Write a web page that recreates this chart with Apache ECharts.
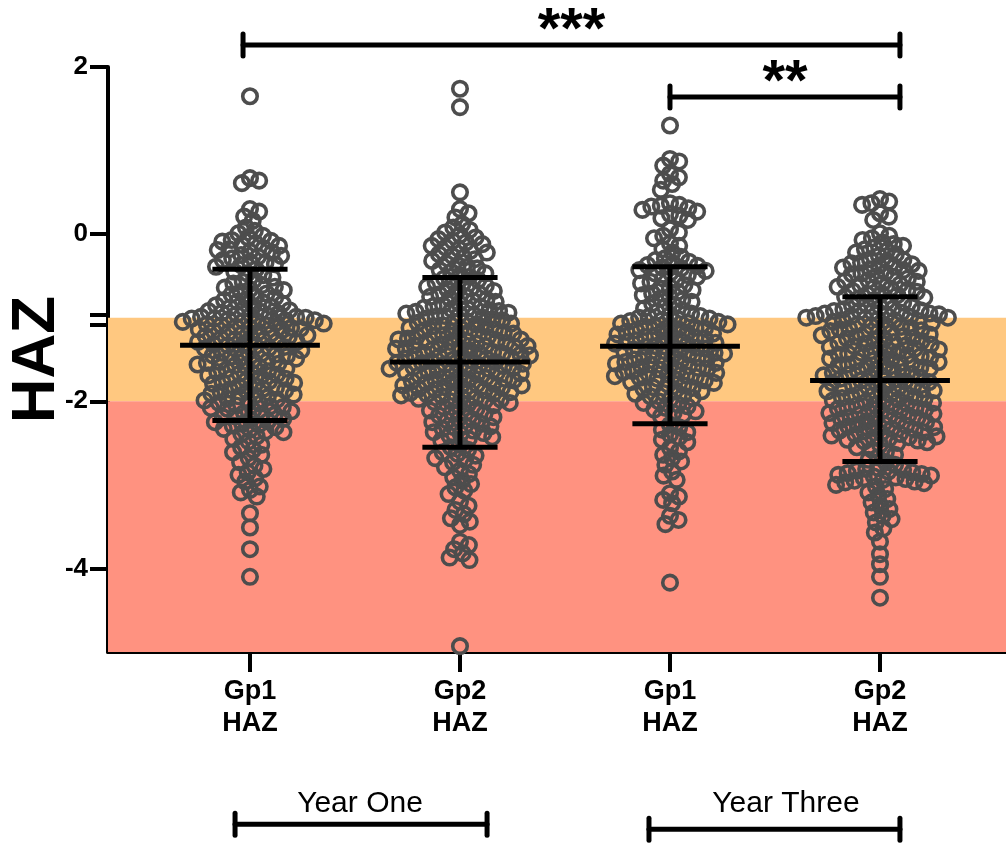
<!DOCTYPE html>
<html>
<head>
<meta charset="utf-8">
<script src="https://cdn.jsdelivr.net/npm/echarts@6/dist/echarts.min.js"></script>
<style>html,body{margin:0;padding:0;background:#fff}#c{width:1006px;height:844px}</style>
</head>
<body>
<div id="c"></div>
<script>
// ---------- data ----------
const categories = ['Gp1\nHAZ', 'Gp2\nHAZ', 'Gp1\nHAZ', 'Gp2\nHAZ'];
const yTickLabels = [2, 0, -2, -4];

const y1Gp1 = [1.65, 0.67, 0.64, 0.61, 0.30, 0.27, 0.21, 0.16, 0.08, 0.04, 0.01,
  -0.02, -0.04, -0.07, -0.08, -0.09, -0.11, -0.13, -0.14, -0.17, -0.18, -0.19,
  -0.21, -0.22, -0.25, -0.26, -0.27, -0.29, -0.31, -0.33, -0.34, -0.36, -0.37, -0.39,
  -0.42, -0.45, -0.47, -0.49, -0.52, -0.55, -0.57, -0.59,
  -0.61, -0.63, -0.64, -0.66, -0.67, -0.69, -0.71, -0.72, -0.75, -0.76, -0.78, -0.79,
  -0.81, -0.82, -0.83, -0.85, -0.86, -0.87, -0.88, -0.89,
  -0.91, -0.92, -0.93, -0.94, -0.95, -0.96, -0.97, -0.98, -0.99, -0.99,
  -1.00, -1.01, -1.01, -1.02, -1.03, -1.03, -1.04, -1.05, -1.05, -1.06, -1.07, -1.08, -1.09, -1.09,
  -1.11, -1.12, -1.12, -1.13, -1.14, -1.15, -1.16, -1.17, -1.18, -1.19, -1.19,
  -1.21, -1.22, -1.23, -1.24, -1.25, -1.26, -1.27, -1.28, -1.29, -1.29,
  -1.31, -1.32, -1.33, -1.34, -1.35, -1.36, -1.37, -1.38, -1.39,
  -1.41, -1.42, -1.43, -1.44, -1.45, -1.46, -1.47, -1.48, -1.49,
  -1.51, -1.52, -1.53, -1.54, -1.55, -1.56, -1.57, -1.58, -1.59,
  -1.61, -1.62, -1.64, -1.65, -1.66, -1.67, -1.68, -1.69,
  -1.71, -1.72, -1.73, -1.75, -1.76, -1.77, -1.78, -1.79,
  -1.81, -1.82, -1.84, -1.85, -1.86, -1.87, -1.88, -1.89,
  -1.91, -1.92, -1.93, -1.94, -1.95, -1.97, -1.98, -1.99,
  -2.01, -2.02, -2.03, -2.05, -2.06, -2.07, -2.08, -2.09,
  -2.11, -2.12, -2.14, -2.15, -2.16, -2.18, -2.19,
  -2.21, -2.22, -2.24, -2.25, -2.27, -2.28, -2.29,
  -2.31, -2.33, -2.34, -2.36, -2.37, -2.39,
  -2.42, -2.45, -2.48, -2.52, -2.55, -2.58, -2.61, -2.64, -2.68,
  -2.73, -2.77, -2.81, -2.85, -2.88, -2.92, -2.96,
  -3.02, -3.06, -3.09, -3.14, -3.34, -3.51, -3.77, -4.10];

const y1Gp2 = [1.74, 1.52, 0.50, 0.30, 0.25, 0.20, 0.12, 0.08, 0.05, 0.02, -0.01,
  -0.04, -0.06, -0.08, -0.10, -0.12, -0.14, -0.16, -0.18, -0.20, -0.22, -0.24, -0.26,
  -0.28, -0.30, -0.32, -0.35, -0.37, -0.39, -0.41, -0.43, -0.45, -0.47, -0.49,
  -0.51, -0.53, -0.55, -0.57, -0.58, -0.60, -0.62, -0.63, -0.65, -0.66, -0.68, -0.69, -0.71, -0.72,
  -0.74, -0.75, -0.77, -0.78, -0.80, -0.81, -0.83,
  -0.85, -0.86, -0.87, -0.88, -0.89, -0.90, -0.91, -0.92, -0.93, -0.94, -0.95,
  -0.96, -0.97, -0.98, -0.99, -1.00, -1.01, -1.02, -1.03, -1.04, -1.05, -1.06, -1.07,
  -1.08, -1.09, -1.10, -1.11, -1.12, -1.13, -1.14, -1.15, -1.16, -1.17, -1.18, -1.19,
  -1.20, -1.21, -1.22, -1.23, -1.24, -1.25, -1.26, -1.27, -1.28, -1.29, -1.30, -1.31, -1.32,
  -1.33, -1.34, -1.35, -1.36, -1.37, -1.38, -1.39, -1.40, -1.41, -1.42, -1.43, -1.44, -1.45, -1.46,
  -1.47, -1.48, -1.49, -1.50, -1.51, -1.52, -1.53, -1.54, -1.55, -1.56, -1.57, -1.58, -1.59,
  -1.60, -1.61, -1.62, -1.63, -1.64, -1.65, -1.66, -1.67, -1.68, -1.69, -1.70, -1.71,
  -1.72, -1.73, -1.74, -1.75, -1.76, -1.77, -1.78, -1.79, -1.80, -1.81, -1.82, -1.83,
  -1.84, -1.85, -1.86, -1.87, -1.88, -1.89, -1.90, -1.91, -1.92, -1.93, -1.94, -1.95,
  -1.96, -1.97, -1.98, -1.99, -2.00, -2.01, -2.02, -2.03,
  -1.22, -1.26, -1.29, -1.34, -1.37, -1.42, -1.45, -1.49, -1.54, -1.58, -1.61,
  -1.66, -1.74, -1.81, -1.89,
  -2.05, -2.07, -2.09, -2.11, -2.13, -2.15, -2.17, -2.19,
  -2.21, -2.23, -2.25, -2.27, -2.29, -2.31, -2.33, -2.35,
  -2.06, -2.14, -2.22, -2.30, -2.38,
  -2.37, -2.39, -2.41, -2.43, -2.45, -2.47,
  -2.52, -2.55, -2.58, -2.61, -2.63, -2.65, -2.68, -2.70, -2.73, -2.76, -2.79,
  -2.83, -2.87, -2.91, -2.95, -2.99, -3.03, -3.07, -3.11,
  -3.20, -3.25, -3.30, -3.35, -3.40, -3.44, -3.48,
  -3.68, -3.72, -3.77, -3.82, -3.87, -3.90, -4.93];

const y3Gp1 = [1.30, 0.90, 0.87, 0.82, 0.72, 0.68, 0.64, 0.60, 0.53,
  0.37, 0.35, 0.34, 0.33, 0.31, 0.29, 0.27, 0.24, 0.22, 0.19, 0.17,
  0.06, 0.02, -0.02, -0.05, -0.11, -0.14, -0.18, -0.22,
  -0.27, -0.29, -0.31, -0.33, -0.35, -0.37, -0.38, -0.40,
  -0.41, -0.43, -0.44, -0.46, -0.47, -0.49,
  -0.51, -0.53, -0.55, -0.57, -0.59, -0.61, -0.63, -0.65, -0.67, -0.69, -0.71,
  -0.73, -0.75, -0.77, -0.79, -0.81, -0.83, -0.85, -0.87, -0.89, -0.91, -0.93, -0.95,
  -0.97, -0.98, -0.99, -1.00, -1.01, -1.02, -1.03, -1.04, -1.05, -1.06, -1.07, -1.08, -1.09,
  -1.10, -1.11, -1.12, -1.13, -1.14, -1.15, -1.16, -1.17, -1.18, -1.19,
  -1.20, -1.21, -1.22, -1.23, -1.24, -1.25, -1.26, -1.27, -1.28, -1.29, -1.30,
  -1.31, -1.32, -1.33, -1.34, -1.35, -1.36, -1.37, -1.38, -1.39, -1.40, -1.41,
  -1.42, -1.43, -1.44, -1.45, -1.46, -1.47, -1.48, -1.49, -1.50, -1.51, -1.52,
  -1.53, -1.54, -1.55, -1.56, -1.57, -1.58, -1.59, -1.60, -1.61, -1.62, -1.63,
  -1.64, -1.65, -1.66, -1.67, -1.68, -1.69, -1.70, -1.71, -1.72, -1.73,
  -1.74, -1.75, -1.77, -1.78, -1.80, -1.81, -1.83, -1.84, -1.85,
  -1.87, -1.88, -1.90, -1.91, -1.93, -1.94, -1.96,
  -1.98, -2.00, -2.02, -2.04, -2.06, -2.08, -2.10, -2.12, -2.14, -2.16, -2.18,
  -2.28, -2.31, -2.34, -2.37, -2.40, -2.43, -2.46, -2.49,
  -2.56, -2.60, -2.64, -2.68, -2.72, -2.76, -2.84, -2.89, -2.94,
  -3.10, -3.14, -3.18, -3.22, -3.37, -3.42, -3.47, -4.17];

const y3Gp2 = [0.42, 0.39, 0.37, 0.35, 0.25, 0.21, 0.17, 0.01, -0.02, -0.05, -0.07,
  -0.10, -0.12, -0.14, -0.16, -0.18, -0.20, -0.22, -0.24, -0.26,
  -0.30, -0.32, -0.34, -0.36, -0.38, -0.40, -0.42, -0.44, -0.46, -0.48, -0.50, -0.53,
  -0.31, -0.35, -0.39, -0.43, -0.47, -0.51,
  -0.55, -0.57, -0.59, -0.61, -0.63, -0.65, -0.67, -0.69, -0.71, -0.73, -0.75, -0.77, -0.79,
  -0.56, -0.60, -0.64, -0.68, -0.72, -0.76, -0.80,
  -0.82, -0.84, -0.85, -0.87, -0.88, -0.90, -0.91, -0.92, -0.93, -0.94, -0.95, -0.96,
  -0.89, -0.92, -0.95, -0.98, -1.00, -1.03,
  -0.97, -0.98, -0.99, -1.00, -1.01, -1.02, -1.03, -1.04, -1.05, -1.06,
  -1.08, -1.10, -1.12, -1.14, -1.16, -1.18, -1.20, -1.22, -1.24, -1.26,
  -1.09, -1.11, -1.13, -1.15, -1.17, -1.19, -1.21, -1.23, -1.25, -1.27,
  -1.28, -1.30, -1.32, -1.34, -1.36, -1.38, -1.40, -1.42, -1.44, -1.46,
  -1.29, -1.31, -1.33, -1.35, -1.37, -1.39, -1.41, -1.43, -1.45, -1.47,
  -1.48, -1.50, -1.52, -1.54, -1.56, -1.58, -1.60, -1.62, -1.64, -1.66,
  -1.49, -1.51, -1.53, -1.55, -1.57, -1.59, -1.61, -1.63, -1.65, -1.67,
  -1.68, -1.70, -1.72, -1.74, -1.76, -1.78, -1.80, -1.82, -1.84, -1.86,
  -1.69, -1.71, -1.73, -1.75, -1.77, -1.79, -1.81, -1.83, -1.85, -1.87,
  -1.88, -1.90, -1.92, -1.94, -1.96, -1.98, -2.00, -2.02,
  -1.89, -1.91, -1.93, -1.95, -1.97, -1.99, -2.01,
  -2.03, -2.05, -2.06, -2.08, -2.09, -2.11, -2.12, -2.14, -2.15, -2.17, -2.18, -2.20,
  -2.21, -2.23, -2.24, -2.26, -2.27, -2.29, -2.30, -2.32, -2.33, -2.35, -2.36, -2.38,
  -2.04, -2.07, -2.10, -2.13, -2.16, -2.19, -2.22, -2.25, -2.28, -2.31, -2.34, -2.37,
  -2.39, -2.41, -2.42, -2.44, -2.45, -2.47, -2.48, -2.50, -2.52,
  -2.40, -2.43, -2.46, -2.49,
  -2.55, -2.58, -2.61, -2.64, -2.67, -2.70, -2.73, -2.76,
  -2.80, -2.82, -2.84, -2.86, -2.88, -2.90, -2.92, -2.94, -2.96, -2.98,
  -2.81, -2.83, -2.85, -2.87, -2.89, -2.91, -2.93, -2.95, -2.97,
  -3.00, -3.02, -3.05, -3.09, -3.13, -3.17, -3.21,
  -3.25, -3.29, -3.33, -3.37, -3.41, -3.45, -3.52, -3.57,
  -3.68, -3.83, -3.95, -4.10, -4.35];

const groups = [y1Gp1, y1Gp2, y3Gp1, y3Gp2];
const means = [-1.33, -1.53, -1.34, -1.75];
const sdUpper = [-0.42, -0.52, -0.39, -0.75];
const sdLower = [-2.23, -2.55, -2.27, -2.72];

// reference bands (y ranges)
const bandTop = [-1, -2];
const bandBottom = [-2, -5];
const bandColor = ['#FFC880', '#FF9280'];

// significance brackets
const sigFrom = [0.967, 3.0];
const sigTo = [4.095, 4.095];
const sigY = [2.262, 1.64];
const sigLabel = ['***', '**'];

// year brackets
const yearFrom = [0.929, 2.9];
const yearTo = [2.129, 4.095];
const yearY = [-7.06, -7.12];
const yearLabel = ['Year One', 'Year Three'];
const yearTextX = [1.524, 3.552];
const yearTextY = [-6.82, -6.82];

// ---------- chart ----------
const FONT = 'Liberation Sans, Arial, sans-serif';
const chart = echarts.init(document.getElementById('c'), null, { renderer: 'canvas' });

const X_MIN = 0.324, X_MAX = 4.6, Y_MIN = -5, Y_MAX = 2;

const baseOption = {
  animation: false,
  backgroundColor: '#fff',
  grid: { left: 108, right: 0, top: 67, bottom: 192, containLabel: false, outerBoundsMode: 'none' },
  xAxis: {
    type: 'value', min: X_MIN, max: X_MAX,
    splitLine: { show: false },
    axisLine: { onZero: false, lineStyle: { color: '#000', width: 4 } },
    axisTick: { customValues: [1, 2, 3, 4], length: 20, lineStyle: { color: '#000', width: 4 } },
    axisLabel: {
      customValues: [1, 2, 3, 4],
      formatter: v => categories[Math.round(v) - 1],
      fontFamily: FONT, fontWeight: 'bold', fontSize: 27, color: '#000',
      lineHeight: 32, margin: 24, align: 'center'
    }
  },
  yAxis: {
    type: 'value', min: Y_MIN, max: Y_MAX,
    name: 'HAZ', nameLocation: 'middle', nameRotate: 90, nameGap: 40, nameMoveOverlap: false,
    nameTextStyle: { fontFamily: FONT, fontWeight: 'bold', fontSize: 62, color: '#000' },
    splitLine: { show: false },
    axisLine: { onZero: false, lineStyle: { color: '#000', width: 4 } },
    axisTick: { customValues: [2, 0, -0.969, -1.089, -2, -4], length: 18, lineStyle: { color: '#000', width: 4 } },
    axisLabel: {
      customValues: yTickLabels,
      fontFamily: FONT, fontWeight: 'bold', fontSize: 26, color: '#000', margin: 20
    }
  },
  series: []
};
chart.setOption(baseOption);

// pixel scale via library
const p0 = chart.convertToPixel({ gridIndex: 0 }, [1, 0]);
const p1 = chart.convertToPixel({ gridIndex: 0 }, [2, 1]);
const pxPerX = p1[0] - p0[0];
const pxPerY = p0[1] - p1[1];

function swarm(values, d) {
  const order = values.map((v, i) => i).sort((a, b) => values[b] - values[a]);
  const placed = [];
  const offs = new Array(values.length);
  for (const i of order) {
    const y = values[i] * pxPerY;
    const near = placed.filter(p => Math.abs(p.y - y) < d);
    const cands = [0];
    for (const p of near) {
      const dx = Math.sqrt(d * d - (p.y - y) * (p.y - y));
      cands.push(p.x + dx + 0.01, p.x - dx - 0.01);
    }
    cands.sort((a, b) => Math.abs(a) - Math.abs(b));
    let best = 0;
    for (const c of cands) {
      if (near.every(p => (p.x - c) * (p.x - c) + (p.y - y) * (p.y - y) >= d * d - 0.001)) { best = c; break; }
    }
    placed.push({ x: best, y: y });
    offs[i] = best;
  }
  return offs;
}

const D = 9.5;
const scatterData = [];
groups.forEach((vals, g) => {
  const offs = swarm(vals, D);
  vals.forEach((v, i) => scatterData.push([g + 1 + offs[i] / pxPerX, v]));
});

const bracketStyle = { stroke: '#000', lineWidth: 5, lineCap: 'round' };
function bracket(a, b, label, tx, ty, font, vAlign) {
  return { type: 'group', children: [
    { type: 'line', shape: { x1: a[0], y1: a[1], x2: b[0], y2: b[1] }, style: bracketStyle },
    { type: 'line', shape: { x1: a[0], y1: a[1] - 11, x2: a[0], y2: a[1] + 11 }, style: bracketStyle },
    { type: 'line', shape: { x1: b[0], y1: b[1] - 11, x2: b[0], y2: b[1] + 11 }, style: bracketStyle },
    { type: 'text', style: { x: tx, y: ty, text: label, fill: '#000',
      font: font, align: 'center', verticalAlign: vAlign } }
  ] };
}

const series = [
  {
    type: 'custom', z: 1, silent: true,
    data: bandTop.map((t, i) => [t, bandBottom[i]]),
    renderItem: (params, api) => {
      const i = params.dataIndex;
      const a = api.coord([X_MIN, bandTop[i]]);
      const b = api.coord([X_MAX, bandBottom[i]]);
      return { type: 'rect', shape: { x: a[0], y: a[1], width: b[0] - a[0], height: b[1] - a[1] }, style: { fill: bandColor[i] } };
    }
  },
  {
    type: 'scatter', z: 3, symbol: 'circle', symbolSize: 14.5,
    itemStyle: { color: 'rgba(0,0,0,0)', borderColor: '#4d4d4d', borderWidth: 3.6, opacity: 1 },
    data: scatterData
  },
  {
    type: 'custom', z: 5, silent: true,
    data: means.map((m, i) => [i + 1, m]),
    renderItem: (params, api) => {
      const i = params.dataIndex, x = i + 1;
      const ls = { stroke: '#000', lineWidth: 5 };
      const seg = (xa, ya, xb, yb) => {
        const a = api.coord([xa, ya]), b = api.coord([xb, yb]);
        return { type: 'line', shape: { x1: a[0], y1: a[1], x2: b[0], y2: b[1] }, style: ls };
      };
      return { type: 'group', children: [
        seg(x, sdUpper[i], x, sdLower[i]),
        seg(x - 0.333, means[i], x + 0.333, means[i]),
        seg(x - 0.179, sdUpper[i], x + 0.179, sdUpper[i]),
        seg(x - 0.179, sdLower[i], x + 0.179, sdLower[i])
      ] };
    }
  },
  {
    type: 'custom', z: 6, silent: true, clip: false,
    data: sigLabel.map((l, i) => [sigFrom[i], sigY[i]]),
    renderItem: (params, api) => {
      const i = params.dataIndex;
      const a = api.coord([sigFrom[i], sigY[i]]), b = api.coord([sigTo[i], sigY[i]]);
      return bracket(a, b, sigLabel[i], (a[0] + b[0]) / 2, a[1] + 16, 'bold 58px ' + FONT, 'bottom');
    }
  },
  {
    type: 'custom', z: 6, silent: true, clip: false,
    data: yearLabel.map((l, i) => [yearFrom[i], yearY[i]]),
    renderItem: (params, api) => {
      const i = params.dataIndex;
      const a = api.coord([yearFrom[i], yearY[i]]), b = api.coord([yearTo[i], yearY[i]]);
      const t = api.coord([yearTextX[i], yearTextY[i]]);
      return bracket(a, b, yearLabel[i], t[0], t[1], '30px ' + FONT, 'middle');
    }
  }
];

chart.setOption({ series: series });
</script>
</body>
</html>
